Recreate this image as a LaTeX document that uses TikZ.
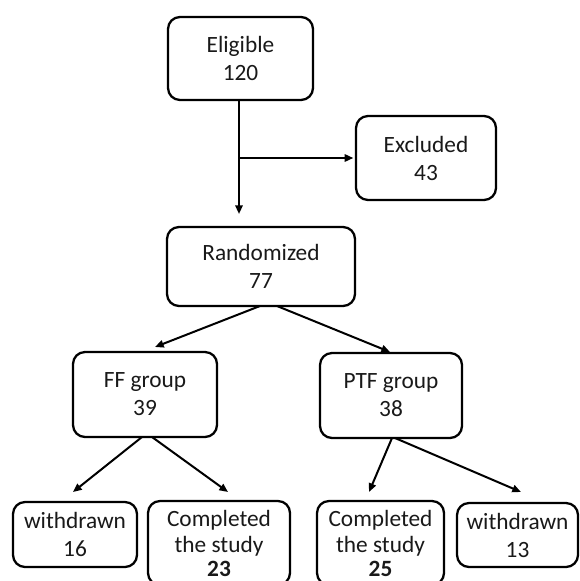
\documentclass[tikz,border=0pt]{standalone}
\usepackage{fontspec}
\setmainfont{Carlito}
\usetikzlibrary{arrows.meta}
\tikzset{
  box/.style={draw=black, line width=1.7pt, rounded corners=9pt, inner sep=0pt, outer sep=0pt,
    align=center, font=\fontsize{17.5}{21}\selectfont, text=black!90},
  tallbox/.style={box, font=\fontsize{17.5}{19.5}\selectfont},
  arr/.style={-{Triangle[length=6.5pt,width=5.5pt]}, line width=1.5pt, draw=black},
}
\begin{document}
\begin{tikzpicture}[x=0.75pt,y=-0.75pt]
\useasboundingbox (0,0) rectangle (579,581);
\fill[white] (0,0) rectangle (579,581);
\clip (0,0) rectangle (579,581);
% boxes
\node[box, minimum width=108.75pt, minimum height=62.25pt] (elig) at (240.5,58.5) {Eligible\\120};
\node[box, minimum width=105pt, minimum height=63pt] (excl) at (426,158) {Excluded\\43};
\node[box, minimum width=141pt, minimum height=59.25pt] (rand) at (261,266.5) {Randomized\\77};
\node[box, minimum width=108pt, minimum height=63.75pt] (ff) at (145,394.5) {FF group\\39};
\node[box, minimum width=106.5pt, minimum height=63.75pt] (ptf) at (391,395.5) {PTF group\\38};
\node[box, minimum width=93pt, minimum height=48.75pt] (w16) at (75,534.5) {withdrawn\\16};
\node[tallbox, minimum width=106.5pt, minimum height=63pt] (c23) at (219,543) {Completed\\the study\\[-1.5pt]\textbf{23}};
\node[tallbox, minimum width=95.25pt, minimum height=63pt] (c25) at (380.5,543) {Completed\\the study\\[-1.5pt]\textbf{25}};
\node[box, minimum width=90.75pt, minimum height=48pt] (w13) at (517.5,535) {withdrawn\\13};
% connectors
\coordinate (v1) at (239,214);
\coordinate (j) at (239,158);
\draw[line width=1.5pt] (elig.south -| v1) -- (j);
\draw[arr] (j) -- (v1);
\draw[arr, shorten >=2pt] (j) -- (excl.west);
\draw[arr] ([xshift=-0.75pt]rand.south) -- ([xshift=7.5pt,yshift=3.75pt]ff.north);
\draw[arr] ([xshift=12pt]rand.south) -- ([xshift=-0.75pt,yshift=0.75pt]ptf.north);
\draw[arr] ([xshift=-2.25pt]ff.south) -- ([xshift=-1.5pt,yshift=7.5pt]w16.north);
\draw[arr] ([xshift=5.25pt]ff.south) -- ([xshift=6.75pt,yshift=6.75pt]c23.north);
\draw[arr] ([xshift=0.75pt]ptf.south) -- ([xshift=-8.6pt,yshift=6.75pt]c25.north);
\draw[arr] ([xshift=3pt]ptf.south) -- ([xshift=2.6pt,yshift=8.25pt]w13.north);
\end{tikzpicture}
\end{document}
